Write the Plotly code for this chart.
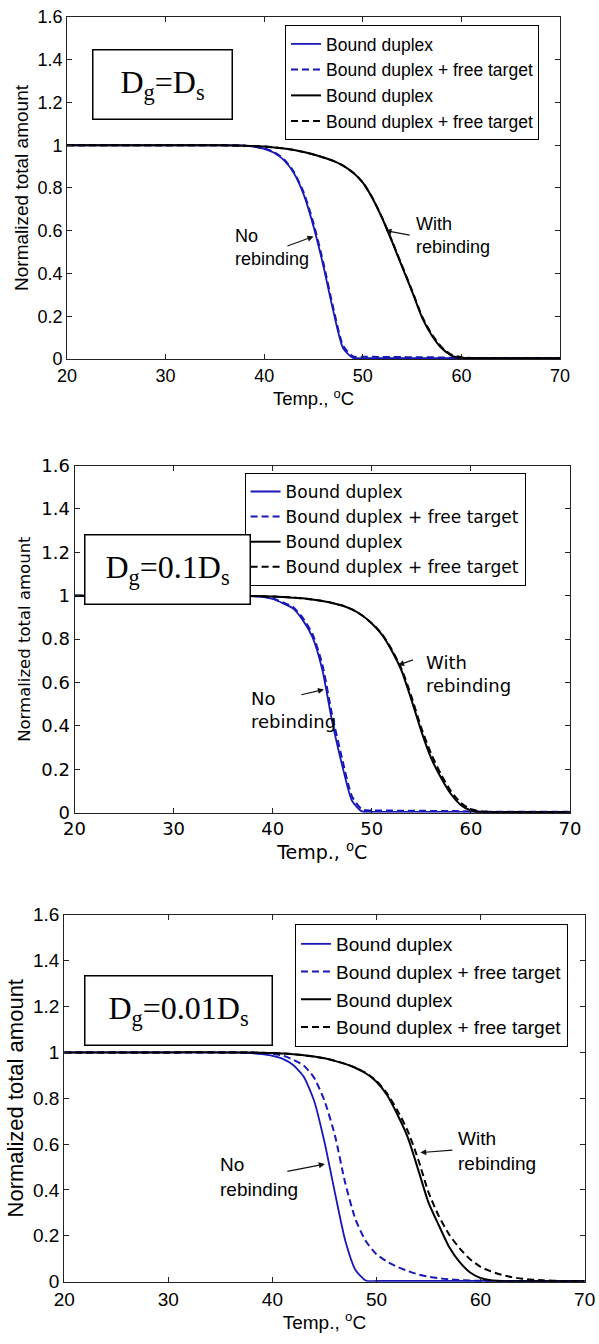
import plotly.graph_objects as go

# Temperature grid (deg C) shared by all curves
temps = [20, 30, 35, 37, 38, 39, 40, 41, 42, 43, 44, 45, 46, 47, 48, 49,
         50, 51, 52, 53, 54, 55, 56, 57, 58, 59, 60, 61, 62, 63, 64, 66, 68, 70]

# Dg = Ds
p1_norebind_bound = [1, 1, 1, 0.999, 0.998, 0.993, 0.983, 0.965, 0.93, 0.87, 0.77, 0.62, 0.435, 0.225, 0.05, 0.005,
                     0.004, 0.004, 0.004, 0.004, 0.004, 0.004, 0.004, 0.004, 0.004, 0.004, 0.004, 0.004, 0.004, 0.004, 0.004, 0.004, 0.004, 0.004]
p1_norebind_total = [1, 1, 1, 0.999, 0.998, 0.994, 0.985, 0.968, 0.935, 0.876, 0.78, 0.635, 0.45, 0.24, 0.062, 0.012,
                     0.01, 0.01, 0.009, 0.009, 0.009, 0.008, 0.008, 0.008, 0.007, 0.006, 0.005, 0.004, 0.004, 0.004, 0.004, 0.004, 0.004, 0.004]
p1_rebind_bound = [1, 1, 1, 0.999, 0.998, 0.996, 0.994, 0.99, 0.985, 0.978, 0.968, 0.957, 0.943, 0.927, 0.905, 0.872,
                   0.825, 0.75, 0.655, 0.545, 0.43, 0.315, 0.195, 0.11, 0.05, 0.016, 0.005, 0.003, 0.003, 0.003, 0.003, 0.003, 0.003, 0.003]
p1_rebind_total = [1, 1, 1, 0.999, 0.998, 0.996, 0.994, 0.99, 0.985, 0.978, 0.968, 0.957, 0.943, 0.927, 0.905, 0.872,
                   0.826, 0.752, 0.657, 0.548, 0.434, 0.32, 0.2, 0.115, 0.055, 0.02, 0.008, 0.005, 0.004, 0.003, 0.003, 0.003, 0.003, 0.003]

# Dg = 0.1 Ds
p2_norebind_bound = [1, 1, 1, 0.999, 0.998, 0.995, 0.985, 0.966, 0.943, 0.89, 0.81, 0.66, 0.42, 0.22, 0.055, 0.006,
                     0.004, 0.004, 0.004, 0.004, 0.004, 0.004, 0.004, 0.004, 0.004, 0.004, 0.004, 0.004, 0.004, 0.004, 0.004, 0.004, 0.004, 0.004]
p2_norebind_total = [1, 1, 1, 0.999, 0.998, 0.996, 0.987, 0.97, 0.95, 0.9, 0.825, 0.685, 0.45, 0.25, 0.075, 0.015,
                     0.01, 0.01, 0.01, 0.009, 0.009, 0.009, 0.008, 0.008, 0.008, 0.007, 0.006, 0.005, 0.004, 0.004, 0.004, 0.004, 0.004, 0.004]
p2_rebind_bound = [1, 1, 1, 0.999, 0.999, 0.998, 0.996, 0.994, 0.991, 0.988, 0.983, 0.976, 0.967, 0.955, 0.937, 0.91,
                   0.872, 0.822, 0.748, 0.655, 0.52, 0.375, 0.25, 0.16, 0.085, 0.035, 0.01, 0.003, 0.002, 0.002, 0.002, 0.002, 0.002, 0.002]
p2_rebind_total = [1, 1, 1, 0.999, 0.999, 0.998, 0.996, 0.994, 0.991, 0.988, 0.983, 0.976, 0.967, 0.955, 0.937, 0.91,
                   0.873, 0.825, 0.753, 0.663, 0.535, 0.39, 0.27, 0.175, 0.098, 0.045, 0.016, 0.007, 0.004, 0.003, 0.002, 0.002, 0.002, 0.002]

# Dg = 0.01 Ds
p3_norebind_bound = [1, 1, 1, 0.999, 0.997, 0.992, 0.985, 0.972, 0.945, 0.895, 0.79, 0.61, 0.39, 0.18, 0.05, 0.004,
                     0.003, 0.003, 0.003, 0.003, 0.003, 0.003, 0.003, 0.003, 0.003, 0.003, 0.003, 0.003, 0.003, 0.003, 0.003, 0.003, 0.003, 0.003]
p3_norebind_total = [1, 1, 1, 1, 0.999, 0.997, 0.993, 0.986, 0.968, 0.943, 0.89, 0.79, 0.64, 0.43, 0.27, 0.175,
                     0.12, 0.088, 0.065, 0.047, 0.032, 0.022, 0.015, 0.01, 0.007, 0.005, 0.004, 0.003, 0.003, 0.003, 0.003, 0.003, 0.003, 0.003]
p3_rebind_bound = [1, 1, 1, 0.999, 0.999, 0.998, 0.997, 0.995, 0.992, 0.988, 0.982, 0.974, 0.963, 0.95, 0.932, 0.908,
                   0.872, 0.815, 0.73, 0.63, 0.49, 0.345, 0.245, 0.15, 0.085, 0.04, 0.016, 0.006, 0.003, 0.002, 0.002, 0.002, 0.002, 0.002]
p3_rebind_total = [1, 1, 1, 0.999, 0.999, 0.998, 0.997, 0.995, 0.992, 0.988, 0.982, 0.974, 0.963, 0.95, 0.933, 0.91,
                   0.876, 0.822, 0.748, 0.658, 0.535, 0.39, 0.285, 0.205, 0.145, 0.098, 0.065, 0.045, 0.03, 0.02, 0.013, 0.006, 0.003, 0.002]

series_names = ["Bound duplex", "Bound duplex + free target", "Bound duplex", "Bound duplex + free target"]
panel_labels = ["D<sub>g</sub>=D<sub>s</sub>", "D<sub>g</sub>=0.1D<sub>s</sub>", "D<sub>g</sub>=0.01D<sub>s</sub>"]
x_ticks = [20, 30, 40, 50, 60, 70]
y_ticks = [0, 0.2, 0.4, 0.6, 0.8, 1, 1.2, 1.4, 1.6]

panels = [
    [p1_norebind_bound, p1_norebind_total, p1_rebind_bound, p1_rebind_total],
    [p2_norebind_bound, p2_norebind_total, p2_rebind_bound, p2_rebind_total],
    [p3_norebind_bound, p3_norebind_total, p3_rebind_bound, p3_rebind_total],
]

BLUE = "#1818b8"
BLACK = "#000000"
SANS = "Liberation Sans, Arial, sans-serif"
WIDE = "DejaVu Sans, Verdana, sans-serif"
SERIF = "Liberation Serif, Times New Roman, serif"
line_styles = [(BLUE, "solid", 1.8), (BLUE, "7px,4px", 2.0), (BLACK, "solid", 2.0), (BLACK, "7px,4px", 2.0)]

# per-panel layout: axis domains, legend anchor, label box, fonts, arrow annotations
layout_specs = [
    dict(xdom=[0.1119, 0.9349], ydom=[0.7329, 0.98735], leg=(0.4758, 0.9814),
         family=SANS, leg_fs=17.5, ann_fs=18, tick_fs=18, ytitle_fs=19, xtitle_fs=18.5,
         xstand=4, ystand=3,
         box=(0.2721, 0.9375, 138, 68),
         no_txt=(36.8, 0.632), no_arrow=((42.2, 0.526), (45.0, 0.573)),
         with_txt=(55.2, 0.688), with_arrow=((54.9, 0.578), (52.3, 0.601))),
    dict(xdom=[0.1244, 0.9516], ydom=[0.3953, 0.6536], leg=(0.4083, 0.6481),
         family=WIDE, leg_fs=17, ann_fs=18, tick_fs=18, ytitle_fs=16.5, xtitle_fs=19,
         xstand=4, ystand=6,
         box=(0.2788, 0.5759, 164, 68),
         no_txt=(37.65, 0.584), no_arrow=((42.74, 0.542), (45.17, 0.568)),
         with_txt=(55.3, 0.75), with_arrow=((54.31, 0.707), (52.65, 0.68))),
    dict(xdom=[0.1072, 0.976], ydom=[0.04635, 0.31935], leg=(0.4925, 0.3125),
         family=SANS, leg_fs=19, ann_fs=19, tick_fs=19, ytitle_fs=22, xtitle_fs=19,
         xstand=1, ystand=3,
         box=(0.2972, 0.2478, 186, 68),
         no_txt=(34.75, 0.566), no_arrow=((41.29, 0.48), (45.04, 0.513)),
         with_txt=(57.6, 0.679), with_arrow=((57.44, 0.574), (54.21, 0.563))),
]

fig = go.Figure()
annotations = []
layout = dict(width=599, height=1344, margin=dict(l=0, r=0, t=0, b=0, autoexpand=False),
              paper_bgcolor="white", plot_bgcolor="white", showlegend=True)

for i, (curves, spec) in enumerate(zip(panels, layout_specs)):
    n = "" if i == 0 else str(i + 1)
    xref, yref = "x" + n, "y" + n
    legend_id = "legend" + n
    fam = spec["family"]
    for name, ys, (color, dash, width) in zip(series_names, curves, line_styles):
        fig.add_trace(go.Scatter(
            x=temps, y=ys, mode="lines", name=name,
            line=dict(color=color, dash=dash, width=width, shape="spline", smoothing=0.6),
            xaxis=xref, yaxis=yref, legend=legend_id, showlegend=True))

    axis_common = dict(showline=True, linecolor="#222", linewidth=1, mirror="ticks",
                       ticks="inside", ticklen=5, tickcolor="#222", showgrid=False, zeroline=False,
                       automargin=False,
                       tickfont=dict(family=fam, size=spec["tick_fs"], color="black"))
    layout["xaxis" + n] = dict(axis_common, domain=spec["xdom"], anchor=yref, range=[20, 70],
                               tickvals=x_ticks,
                               title=dict(text="Temp., <sup>o</sup>C", standoff=spec["xstand"],
                                          font=dict(family=fam, size=spec["xtitle_fs"], color="black")))
    layout["yaxis" + n] = dict(axis_common, domain=spec["ydom"], anchor=xref, range=[0, 1.6],
                               tickvals=y_ticks,
                               title=dict(text="Normalized total amount", standoff=spec["ystand"],
                                          font=dict(family=fam, size=spec["ytitle_fs"], color="black")))
    layout[legend_id] = dict(x=spec["leg"][0], y=spec["leg"][1], xanchor="left", yanchor="top",
                             xref="paper", yref="paper",
                             bordercolor="black", borderwidth=1, bgcolor="white",
                             font=dict(family=fam, size=spec["leg_fs"], color="black"))

    bx, by, bw, bh = spec["box"]
    annotations.append(dict(xref="paper", yref="paper", x=bx, y=by, xanchor="center", yanchor="middle",
                            text=panel_labels[i], showarrow=False, width=bw, height=bh, borderpad=0,
                            bordercolor="black", borderwidth=1.5, bgcolor="white",
                            font=dict(family=SERIF, size=32, color="black")))
    for key_txt, key_arrow, label in [("no_txt", "no_arrow", "No<br>rebinding"),
                                      ("with_txt", "with_arrow", "With<br>rebinding")]:
        tx, ty = spec[key_txt]
        annotations.append(dict(xref=xref, yref=yref, x=tx, y=ty, text=label, showarrow=False,
                                xanchor="left", yanchor="top", align="left",
                                font=dict(family=fam, size=spec["ann_fs"], color="black")))
        (ax, ay), (hx, hy) = spec[key_arrow]
        annotations.append(dict(xref=xref, yref=yref, axref=xref, ayref=yref,
                                x=hx, y=hy, ax=ax, ay=ay, text="", showarrow=True,
                                arrowhead=2, arrowsize=1, arrowwidth=1.2, arrowcolor="#111"))

layout["annotations"] = annotations
fig.update_layout(**layout)
fig.write_html("out.html")
